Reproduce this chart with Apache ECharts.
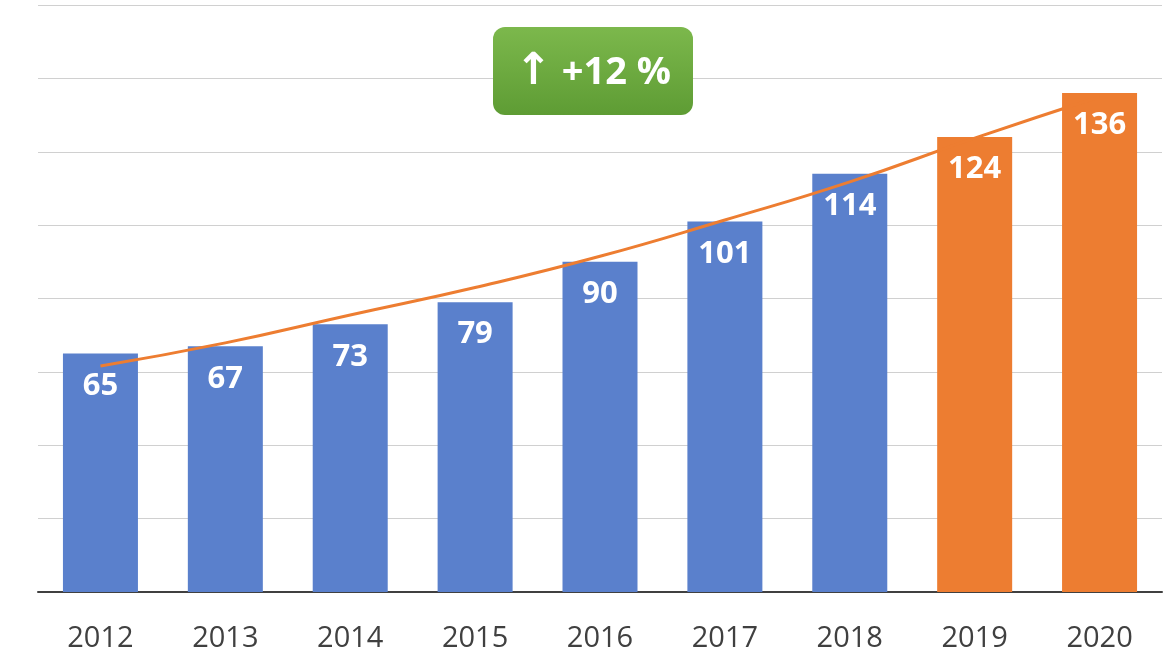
<!DOCTYPE html>
<html>
<head>
<meta charset="utf-8">
<title>Growth chart</title>
<script src="https://cdn.jsdelivr.net/npm/echarts@6/dist/echarts.min.js"></script>
<style>
  html, body { margin: 0; padding: 0; background: #fff; }
  #chart { width: 1175px; height: 659px; }
</style>
</head>
<body>
<div id="chart"></div>
<script>
// data
var years = ["2012", "2013", "2014", "2015", "2016", "2017", "2018", "2019", "2020"];
var values = [65, 67, 73, 79, 90, 101, 114, 124, 136];
var forecastFrom = 7; // 2019 and 2020 are orange
var trend = [61.6, 67.9, 75.5, 83, 91.5, 101.4, 111.8, 123.7, 135];
var badgeArrow = "↑";
var badgeText = "+12 %";

var blue = "#5a80cc";
var orange = "#ed7d31";

var chart = echarts.init(document.getElementById("chart"));

var barData = values.map(function (v, i) {
  return {
    value: v,
    itemStyle: { color: i >= forecastFrom ? orange : blue }
  };
});

chart.setOption({
  animation: false,
  grid: { left: 38, right: 13, top: 5, bottom: 67 },
  xAxis: {
    type: "category",
    data: years,
    axisTick: { show: false },
    axisLine: { lineStyle: { color: "#404040", width: 2 } },
    axisLabel: {
      color: "#404040",
      fontFamily: "Open Sans",
      fontSize: 29,
      margin: 32
    }
  },
  yAxis: {
    type: "value",
    min: 0,
    max: 160,
    interval: 20,
    axisLabel: { show: false },
    axisLine: { show: false },
    axisTick: { show: false },
    splitLine: { lineStyle: { color: "#d0d0d0", width: 1 } }
  },
  series: [
    {
      type: "bar",
      data: barData,
      barWidth: 75,
      z: 2,
      label: {
        show: true,
        position: "insideTop",
        distance: 17,
        color: "#fff",
        fontFamily: "Open Sans",
        fontWeight: "bold",
        fontSize: 31
      }
    },
    {
      type: "line",
      data: trend,
      smooth: true,
      symbol: "none",
      z: 3,
      lineStyle: { color: orange, width: 3 }
    }
  ],
  graphic: [
    {
      type: "group",
      left: 493,
      top: 27,
      z: 100,
      children: [
        {
          type: "rect",
          z: 100,
          shape: { x: 0, y: 0, width: 200, height: 88, r: 12 },
          style: {
            fill: new echarts.graphic.LinearGradient(0, 0, 0, 1, [
              { offset: 0, color: "#7cb84c" },
              { offset: 1, color: "#5e9c34" }
            ])
          }
        },
        {
          type: "text",
          z: 101,
          x: 100,
          y: 46,
          style: {
            text: "{a|" + badgeArrow + "}{b| " + badgeText + "}",
            fill: "#fff",
            align: "center",
            verticalAlign: "middle",
            rich: {
              a: { fontFamily: "DejaVu Sans", fontWeight: "bold", fontSize: 44, fill: "#fff" },
              b: { fontFamily: "Open Sans", fontWeight: "bold", fontSize: 38, fill: "#fff" }
            }
          }
        }
      ]
    }
  ]
});
</script>
</body>
</html>
